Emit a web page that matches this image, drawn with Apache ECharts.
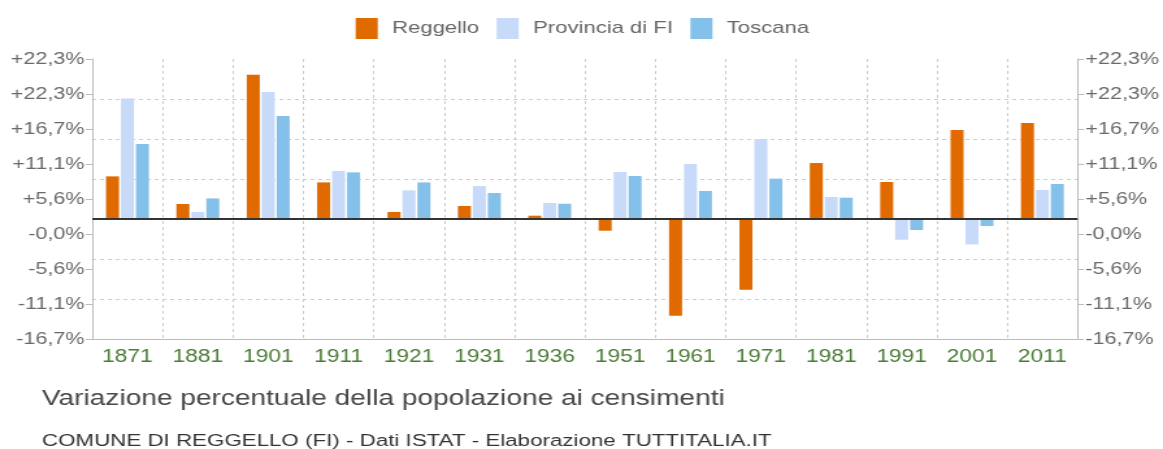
<!DOCTYPE html>
<html>
<head>
<meta charset="utf-8">
<title>Variazione percentuale della popolazione ai censimenti</title>
<script src="https://cdn.jsdelivr.net/npm/echarts@6/dist/echarts.min.js"></script>
<style>
  html, body { margin: 0; padding: 0; background: #ffffff; overflow: hidden; }
  /* the chart is laid out at a narrower width and widened horizontally to the page */
  #chart { width: 895px; height: 449px; transform: scaleX(1.29944); transform-origin: 0 0; }
</style>
</head>
<body>
<div id="chart"></div>
<script>
// Census years
const years = ['1871','1881','1901','1911','1921','1931','1936','1951','1961','1971','1981','1991','2001','2011'];

// Percentage change of population at each census
const reggello  = [5.94, 2.09, 20.1, 5.1, 0.98, 1.81, 0.46, -1.63, -13.48, -9.86, 7.8, 5.16, 12.4, 13.38];
const provincia = [16.8, 0.98, 17.7, 6.69, 3.99, 4.6, 2.23, 6.55, 7.67, 11.15, 3.07, -2.89, -3.54, 4.04];
const toscana   = [10.45, 2.87, 14.36, 6.5, 5.1, 3.62, 2.13, 5.99, 3.9, 5.62, 2.97, -1.53, -0.98, 4.88];

// Value-axis tick labels, listed top to bottom
const yTickLabels = ['+22,3%', '+22,3%', '+16,7%', '+11,1%', '+5,6%', '-0,0%', '-5,6%', '-11,1%', '-16,7%'];

// Value scale of the bars
const step = 5.575;
const yMin = -3 * step;
const yMax = 4 * step;

const FONT = "'Liberation Sans', Arial, Helvetica, sans-serif";
const gridLineColor = '#cccccc';
const axisColor = '#bbbbbb';

const chart = echarts.init(document.getElementById('chart'), null, { renderer: 'canvas' });

const labelAxis = (position) => ({
  type: 'value',
  position: position,
  min: 0,
  max: yTickLabels.length - 1,
  interval: 1,
  axisLine: { show: true, lineStyle: { color: axisColor, width: 1 } },
  axisTick: { show: true, length: 5, lineStyle: { color: axisColor } },
  axisLabel: {
    margin: 6,
    color: '#6a6a6a',
    fontSize: 16.6,
    fontFamily: FONT,
    formatter: (v) => yTickLabels[yTickLabels.length - 1 - Math.round(v)]
  },
  splitLine: { show: false }
});

const option = {
  animation: false,
  backgroundColor: '#ffffff',
  title: [
    {
      text: 'Variazione percentuale della popolazione ai censimenti',
      left: 32.3,
      top: 388,
      padding: 0,
      textStyle: { fontFamily: FONT, fontSize: 21.6, fontWeight: 'normal', color: '#484848' }
    },
    {
      text: 'COMUNE DI REGGELLO (FI) - Dati ISTAT - Elaborazione TUTTITALIA.IT',
      left: 32.3,
      top: 432.5,
      padding: 0,
      textStyle: { fontFamily: FONT, fontSize: 17.2, fontWeight: 'normal', color: '#333333' }
    }
  ],
  legend: {
    left: 273.7,
    top: 18,
    padding: 0,
    itemWidth: 17,
    itemHeight: 21,
    itemGap: 13.4,
    icon: 'rect',
    formatter: (name) => '{g|}' + name,
    textStyle: {
      fontFamily: FONT,
      fontSize: 17,
      color: '#666666',
      rich: { g: { width: 6 } }
    },
    data: ['Reggello', 'Provincia di FI', 'Toscana']
  },
  grid: { left: 71, right: 64, top: 59, height: 280, containLabel: false },
  xAxis: {
    type: 'category',
    data: years,
    position: 'bottom',
    axisLine: { show: true, onZero: false, lineStyle: { color: axisColor, width: 1 } },
    axisTick: { show: false },
    axisLabel: { margin: 9, color: '#4a7c34', fontSize: 17.5, fontFamily: FONT },
    splitLine: { show: true, lineStyle: { color: gridLineColor, type: [3, 3], width: 1 } }
  },
  yAxis: [
    {
      type: 'value',
      position: 'left',
      min: yMin,
      max: yMax,
      interval: step,
      axisLine: { show: false },
      axisTick: { show: false },
      axisLabel: { show: false },
      splitLine: {
        show: true,
        lineStyle: {
          type: [3, 3],
          width: 1,
          color: ['transparent', gridLineColor, gridLineColor, gridLineColor,
                  gridLineColor, gridLineColor, gridLineColor, 'transparent']
        }
      }
    },
    labelAxis('left'),
    labelAxis('right')
  ],
  series: [
    {
      name: 'Reggello',
      type: 'bar',
      yAxisIndex: 0,
      data: reggello,
      barWidth: 10,
      barGap: '15%',
      itemStyle: { color: '#e06a00' },
      markLine: {
        silent: true,
        symbol: 'none',
        label: { show: false },
        lineStyle: { color: '#333333', width: 2, type: 'solid' },
        data: [{ yAxis: 0 }]
      }
    },
    {
      name: 'Provincia di FI',
      type: 'bar',
      yAxisIndex: 0,
      data: provincia,
      barWidth: 10,
      barGap: '15%',
      itemStyle: { color: '#c8dafa' }
    },
    {
      name: 'Toscana',
      type: 'bar',
      yAxisIndex: 0,
      data: toscana,
      barWidth: 10,
      barGap: '15%',
      itemStyle: { color: '#84c1ea' }
    }
  ]
};

chart.setOption(option);
</script>
</body>
</html>
